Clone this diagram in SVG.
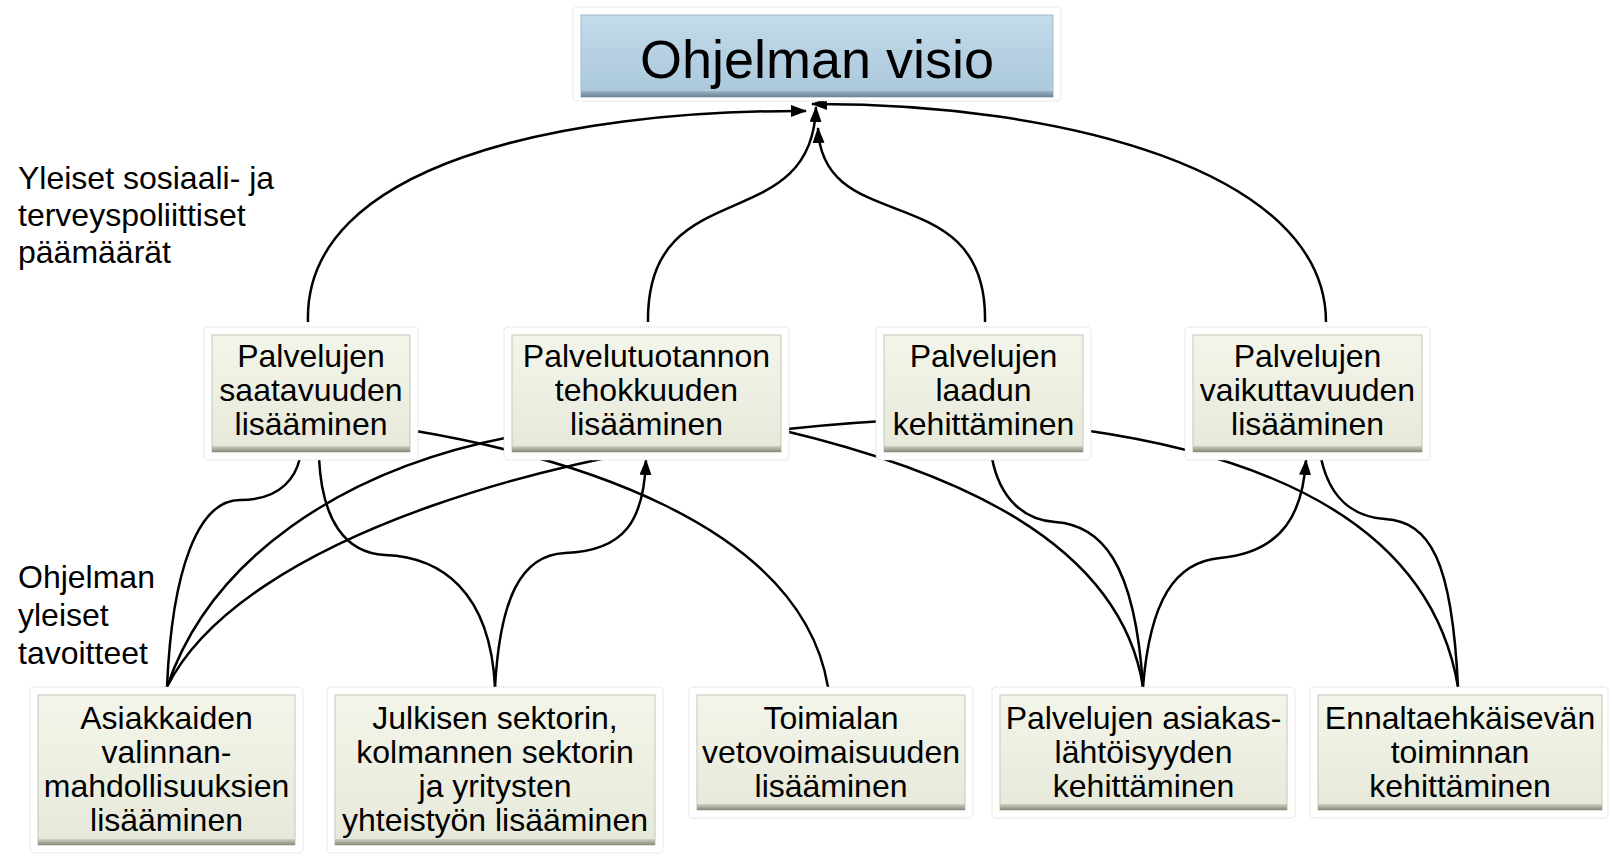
<svg xmlns="http://www.w3.org/2000/svg" width="1612" height="859" viewBox="0 0 1612 859">
<defs>
<linearGradient id="gBox" x1="0" y1="0" x2="0" y2="1">
<stop offset="0" stop-color="#F3F5EA"/>
<stop offset="0.5" stop-color="#ECEFE1"/>
<stop offset="1" stop-color="#E6E9DA"/>
</linearGradient>
<linearGradient id="gBand" x1="0" y1="0" x2="0" y2="1">
<stop offset="0" stop-color="#CFD2C2"/>
<stop offset="1" stop-color="#858977"/>
</linearGradient>
<linearGradient id="gVis" x1="0" y1="0" x2="0" y2="1">
<stop offset="0" stop-color="#C4DCEA"/>
<stop offset="0.5" stop-color="#B5D0E2"/>
<stop offset="1" stop-color="#ABC8DB"/>
</linearGradient>
<linearGradient id="gVisBand" x1="0" y1="0" x2="0" y2="1">
<stop offset="0" stop-color="#9AB5C6"/>
<stop offset="1" stop-color="#6A8393"/>
</linearGradient>
<marker id="arr" viewBox="0 0 16 12" refX="15" refY="6" markerWidth="16" markerHeight="12" markerUnits="userSpaceOnUse" orient="auto">
<path d="M0,0 L16,6 L0,12 z" fill="#000"/>
</marker>
</defs>
<style>
.glow{fill:#FFFFFF;stroke:#D2D2D2;stroke-width:1;stroke-dasharray:1 1}
.box{fill:url(#gBox);stroke:#C4C7B8;stroke-width:1}
.band{fill:url(#gBand)}
.vis{fill:url(#gVis);stroke:#9FBCCD;stroke-width:1}
.visband{fill:url(#gVisBand)}
.t{font-family:"Liberation Sans",Arial,sans-serif;font-size:32px;fill:#000;text-anchor:middle}
.lbl{font-family:"Liberation Sans",Arial,sans-serif;font-size:32px;fill:#000}
.title{font-family:"Liberation Sans",Arial,sans-serif;font-size:54px;fill:#000;text-anchor:middle}
.c{fill:none;stroke:#000;stroke-width:2.5}
.ca{fill:none;stroke:#000;stroke-width:2.5;marker-end:url(#arr)}
</style>
<rect width="1612" height="859" fill="#FFFFFF"/>

<g id="labels">
<text class="lbl" x="18" y="189">Yleiset sosiaali- ja</text>
<text class="lbl" x="18" y="226">terveyspoliittiset</text>
<text class="lbl" x="18" y="263">päämäärät</text>
<text class="lbl" x="18" y="588">Ohjelman</text>
<text class="lbl" x="18" y="626">yleiset</text>
<text class="lbl" x="18" y="664">tavoitteet</text>
</g>

<g id="connectors">
<path class="ca" d="M308,322 C303,165 560,110 806,111"/>
<path class="ca" d="M1326,322 C1326,170 1060,103 812,104"/>
<path class="ca" d="M648,322 C646,170 812,240 816,107"/>
<path class="ca" d="M985,322 C988,175 822,240 818,128"/>
<path class="c" d="M167,687 C172,570 198,500 240,500 C283,500 296,475 300,458"/>
<path class="c" d="M167,687 C210,560 340,470 510,437"/>
<path class="c" d="M167,687 C240,540 560,440 884,421"/>
<path class="c" d="M319,458 C322,520 345,553 385,555 C440,557 490,590 495,687"/>
<path class="ca" d="M495,687 C500,600 520,555 565,553 C625,551 644,520 646,460"/>
<path class="c" d="M410,430 C560,455 800,520 828,687"/>
<path class="c" d="M781,430 C950,470 1120,540 1143,687"/>
<path class="c" d="M992,458 C1000,500 1025,520 1055,522 C1100,525 1135,560 1143,687"/>
<path class="ca" d="M1143,687 C1150,600 1175,562 1220,558 C1285,552 1303,510 1306,460"/>
<path class="c" d="M1083,430 C1260,455 1430,520 1458,687"/>
<path class="c" d="M1321,458 C1330,500 1355,517 1385,519 C1430,522 1452,560 1458,687"/>
</g>

<g id="vision">
<rect class="glow" x="573" y="7" width="488" height="94" rx="4"/>
<rect class="vis" x="581" y="15" width="472" height="82"/>
<rect class="visband" x="581" y="91" width="472" height="6"/>
<text class="title" x="817" y="78">Ohjelman visio</text>
</g>

<g id="node-saatavuus">
<rect class="glow" x="204" y="327" width="214" height="133" rx="4"/>
<rect class="box" x="212" y="335" width="198" height="117"/>
<rect class="band" x="212" y="446" width="198" height="6"/>
<text class="t" x="311" y="367">Palvelujen</text>
<text class="t" x="311" y="401">saatavuuden</text>
<text class="t" x="311" y="435">lisääminen</text>
</g>

<g id="node-tehokkuus">
<rect class="glow" x="504" y="327" width="285" height="133" rx="4"/>
<rect class="box" x="512" y="335" width="269" height="117"/>
<rect class="band" x="512" y="446" width="269" height="6"/>
<text class="t" x="646.5" y="367">Palvelutuotannon</text>
<text class="t" x="646.5" y="401">tehokkuuden</text>
<text class="t" x="646.5" y="435">lisääminen</text>
</g>

<g id="node-laatu">
<rect class="glow" x="876" y="327" width="215" height="133" rx="4"/>
<rect class="box" x="884" y="335" width="199" height="117"/>
<rect class="band" x="884" y="446" width="199" height="6"/>
<text class="t" x="983.5" y="367">Palvelujen</text>
<text class="t" x="983.5" y="401">laadun</text>
<text class="t" x="983.5" y="435">kehittäminen</text>
</g>

<g id="node-vaikuttavuus">
<rect class="glow" x="1185" y="327" width="245" height="133" rx="4"/>
<rect class="box" x="1193" y="335" width="229" height="117"/>
<rect class="band" x="1193" y="446" width="229" height="6"/>
<text class="t" x="1307.5" y="367">Palvelujen</text>
<text class="t" x="1307.5" y="401">vaikuttavuuden</text>
<text class="t" x="1307.5" y="435">lisääminen</text>
</g>

<g id="node-valinta">
<rect class="glow" x="30" y="687" width="273" height="166" rx="4"/>
<rect class="box" x="38" y="695" width="257" height="150"/>
<rect class="band" x="38" y="839" width="257" height="6"/>
<text class="t" x="166.5" y="729">Asiakkaiden</text>
<text class="t" x="166.5" y="763">valinnan-</text>
<text class="t" x="166.5" y="797">mahdollisuuksien</text>
<text class="t" x="166.5" y="831">lisääminen</text>
</g>

<g id="node-yhteistyo">
<rect class="glow" x="327" y="687" width="336" height="166" rx="4"/>
<rect class="box" x="335" y="695" width="320" height="150"/>
<rect class="band" x="335" y="839" width="320" height="6"/>
<text class="t" x="495" y="729">Julkisen sektorin,</text>
<text class="t" x="495" y="763">kolmannen sektorin</text>
<text class="t" x="495" y="797">ja yritysten</text>
<text class="t" x="495" y="831">yhteistyön lisääminen</text>
</g>

<g id="node-vetovoima">
<rect class="glow" x="689" y="687" width="284" height="131" rx="4"/>
<rect class="box" x="697" y="695" width="268" height="115"/>
<rect class="band" x="697" y="804" width="268" height="6"/>
<text class="t" x="831" y="729">Toimialan</text>
<text class="t" x="831" y="763">vetovoimaisuuden</text>
<text class="t" x="831" y="797">lisääminen</text>
</g>

<g id="node-asiakaslahtoisyys">
<rect class="glow" x="992" y="687" width="303" height="131" rx="4"/>
<rect class="box" x="1000" y="695" width="287" height="115"/>
<rect class="band" x="1000" y="804" width="287" height="6"/>
<text class="t" x="1143.5" y="729">Palvelujen asiakas-</text>
<text class="t" x="1143.5" y="763">lähtöisyyden</text>
<text class="t" x="1143.5" y="797">kehittäminen</text>
</g>

<g id="node-ennaltaehkaisy">
<rect class="glow" x="1310" y="687" width="298" height="131" rx="4"/>
<rect class="box" x="1318" y="695" width="284" height="115"/>
<rect class="band" x="1318" y="804" width="284" height="6"/>
<text class="t" x="1460" y="729">Ennaltaehkäisevän</text>
<text class="t" x="1460" y="763">toiminnan</text>
<text class="t" x="1460" y="797">kehittäminen</text>
</g>
</svg>
